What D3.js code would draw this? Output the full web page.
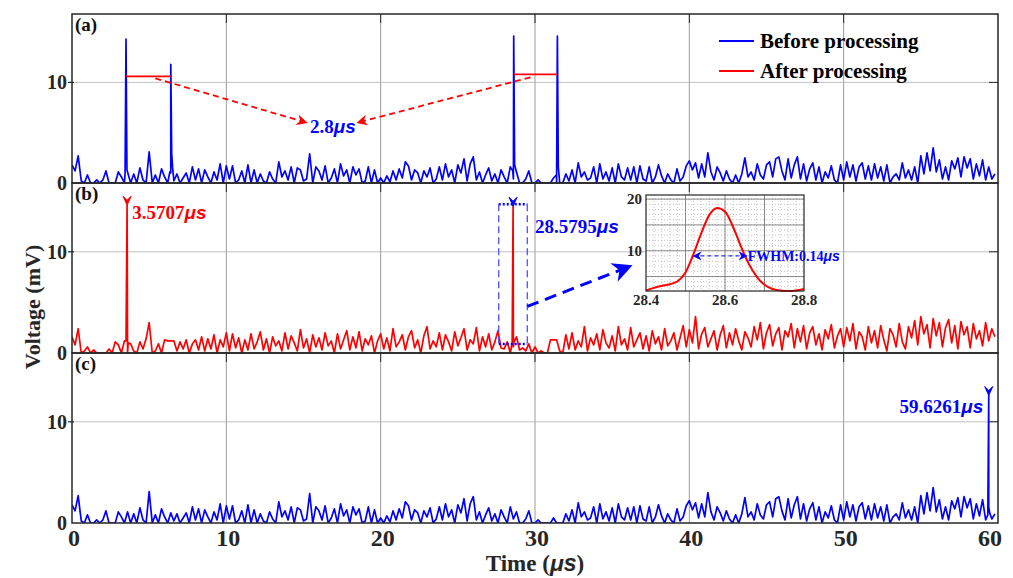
<!DOCTYPE html>
<html><head><meta charset="utf-8">
<script src="https://cdn.jsdelivr.net/npm/d3@7/dist/d3.min.js"></script>
<style>body{margin:0;background:#fff}svg{display:block}</style>
</head><body><svg id="c" width="1013" height="578"></svg>
<script>
// ---------------- DATA ----------------
const xTicks = [0, 10, 20, 30, 40, 50, 60];
const yTicks = [0, 10];
const panelLabels = ["(a)", "(b)", "(c)"];
const legendLabels = ["Before processing", "After processing"];
const sampleStep = 0.2; // µs between noise samples

// background noise seen in panels (a) and (c) (mV), one value per 0.2 µs
const noiseBefore = [
 1.8,1.2,2.7,0.2,0,0.8,0,0,0.3,0,
 0.3,1.2,0,0,0,1.1,0.6,0,1.1,0,
 0.9,0,1.5,0.3,0,3.1,0,0.8,0,1.4,
 0.6,0,1.0,0.2,0.9,0,0.5,1.0,0,1.6,
 0.3,1.4,0,1.3,0.6,0,1.1,0.3,1.9,0,
 1.7,0.4,1.7,0,0.3,1.2,0,1.8,0,1.3,
 0,0.9,0.2,0,1.1,0.4,0,2.1,0.6,1.2,
 0.3,1.6,0,1.5,1.3,0.2,0.4,2.9,0,1.6,
 1.2,0.3,1.7,0,0.5,1.4,0,1.9,0.7,1.3,
 0,1.6,0.8,1.4,0,0.2,1.6,0,1.3,0,
 0.5,0,0.7,0.1,1.2,0.3,1.4,0.5,2.1,1.7,
 0.3,1.3,1.0,0,1.2,0.6,1.5,0,0.4,1.6,
 0.3,1.9,0.6,1.3,0,1.8,1.0,2.4,0.2,1.9,
 2.6,0.3,1.1,0,0.8,1.5,0.2,0.9,0,1.3,
 0.6,0,1.6,0.4,1.1,0,0,0.4,1.2,0,
 0,0.3,0,0,0,0,0.5,0,0,0,
 0.9,0.2,1.3,0,2.0,0.6,1.1,0.3,0.5,1.6,
 0,1.9,0.4,1.1,0.2,1.5,0,1.9,0.6,0.3,
 1.5,0.3,1.6,0,1.7,0.4,0.2,1.6,0,0.6,
 1.8,0.7,0,0.9,0.3,0,1.4,0.2,0.6,1.7,
 2.2,1.3,2.0,0.5,1.9,0.6,3.0,1.1,0.3,1.6,
 1.0,0.2,1.2,0.4,0,0.8,0,0.9,2.5,0.6,
 1.1,0.3,1.9,0.8,0.4,1.8,2.1,0.6,2.4,2.6,
 1.2,0.3,2.4,0.5,1.8,2.6,0.4,1.9,0.2,1.4,
 2.0,0.3,1.6,0,1.1,0.5,1.7,0.3,0,1.8,
 0.3,2.1,0.6,1.8,0.2,1.6,2.0,0.4,1.7,0.3,
 1.9,0.5,1.6,0.2,1.8,0,0.6,0.9,0.3,2.0,
 0.5,1.3,0.3,1.6,0,2.7,0.9,3.0,1.2,3.5,
 1.1,2.3,0.4,1.6,0.3,2.2,1.4,2.5,0.6,2.6,
 1.5,2.4,0.4,1.9,0.7,2.3,0.3,1.6,0.4,0.9
];
// background noise in panel (b) (mV)
const noiseAfter = [
 1.6,0.8,2.4,0,0.2,0.6,0,0.3,0,0,
 0,0,0.4,0,1.1,0.8,0,1.2,0,0.9,
 0.2,0,1.1,0.4,1.4,3.0,0,0.2,0.9,0,
 1.3,1.2,1.2,1.2,0.2,1.1,0.4,1.3,0,0.9,
 1.3,0.3,1.6,0.2,1.4,0.4,1.8,0,1.3,0.6,
 2.0,0.2,1.9,0.5,1.5,0,1.3,0.3,1.9,0.4,
 1.1,2.1,0.3,1.4,0,1.6,0.7,1.2,0.2,2.0,
 0.4,1.7,1.0,0.2,2.3,0.5,1.4,0,1.8,0.6,
 1.5,0.3,2.0,0.7,1.2,0,1.9,0.4,1.3,2.2,
 0.3,1.6,0.5,2.1,0.2,1.4,0.8,1.7,0,1.2,
 1.9,0.4,1.5,0.2,2.4,0.6,1.1,1.8,0.3,1.6,
 2.2,0.5,1.3,0,1.7,2.6,0.4,1.2,0.6,2.0,
 0.3,1.8,1.1,0.2,2.1,0.7,1.5,2.4,0.3,1.3,
 0.9,2.5,0.2,1.6,0.6,1.9,0.3,1.1,2.2,0.5,
 0.4,1.1,0,0.6,1.6,0.3,0.5,0.2,0.9,0,
 0.6,0,0.2,0,0,1.3,1.3,1.3,0.2,0,
 1.8,0.4,2.0,0.3,1.2,0.6,2.6,0.2,1.5,0.8,
 1.9,0.3,2.3,1.0,0.5,1.7,0.2,2.6,0.8,1.4,
 0.3,2.5,0.6,1.3,2.0,0.4,1.7,0.2,2.2,0.9,
 1.6,0.3,2.4,0.7,1.2,2.0,0.3,1.5,2.7,0.6,
 2.3,1.0,3.6,0.4,1.9,2.5,0.6,1.4,2.2,0.3,
 1.8,2.7,0.5,2.0,0.8,2.4,1.2,0.3,2.1,1.5,
 0.6,2.6,1.3,3.0,0.4,2.0,2.8,0.7,1.9,2.5,
 0.3,2.2,1.6,2.9,0.5,2.4,1.1,2.7,0.4,2.0,
 2.6,0.8,1.9,0.3,2.3,1.4,2.8,0.5,1.7,2.4,
 0.6,2.5,1.2,2.9,0.4,2.1,1.6,0.3,2.6,1.0,
 2.2,0.5,2.7,1.3,0.2,2.4,1.8,0.6,2.9,1.1,
 0.4,2.6,1.5,3.2,0.8,3.6,1.9,2.8,0.5,3.4,
 1.7,3.0,0.6,2.5,3.3,1.0,2.7,0.4,3.1,1.8,
 2.6,0.5,2.9,1.4,2.2,0.7,3.0,1.2,2.4,1.6
];
// pulse samples [time µs, mV]
const pulsesBefore = [[3.44,1.0],[3.5,14.3],[3.56,1.3],[6.34,1.1],[6.4,11.8],[6.46,2.9],[6.52,1.5],
                      [28.56,1.2],[28.62,14.6],[28.68,1.8],[31.39,0.8],[31.45,14.6],[31.51,1.6]];
const pulsesAfter  = [[3.5,1.2],[3.57,14.6],[3.64,1.0],[28.52,1.0],[28.58,14.5],[28.64,1.1]];
const pulsesC      = [[59.34,0.8],[59.4,12.6],[59.46,1.0]];
// red intervals in (a): [start, end, level]
const intervals = [[3.5, 6.4, 10.6], [28.62, 31.45, 10.8]];
// inset: zoom of the pulse near 28.58 µs
const insetT = [28.40,28.42,28.44,28.46,28.48,28.50,28.52,28.54,28.56,28.58,28.60,28.62,28.64,28.66,28.68,28.70,28.72,28.74,28.76,28.78,28.80];
const insetV = [2.3,2.8,3.2,3.5,4.1,5.8,9.3,13.4,16.9,18.3,17.6,14.7,10.9,7.5,5.0,3.4,2.6,2.3,2.2,2.3,2.6];
const insetXTicks = [28.4, 28.6, 28.8];
const insetYTicks = [10, 20];

// ---------------- LAYOUT ----------------
const svg = d3.select("#c");
const L = 72, R = 998;
const panels = [{top:14,bot:183},{top:183,bot:353},{top:353,bot:523}];
const x = d3.scaleLinear([0, 60], [L, R]);
const ys = panels.map(p => d3.scaleLinear([0, 16.8], [p.bot, p.top]));
const serif = "'Liberation Serif','Times New Roman',serif";
const sans = "'Liberation Sans',Arial,sans-serif";
const BLUE = "#0000ff", RED = "#ff0000", TXT = "#262626";

function series(noise, pulses) {
  const pts = noise.map((v, i) => [i * sampleStep, v]).concat(pulses);
  pts.sort((a, b) => a[0] - b[0]);
  return pts;
}
const data = [series(noiseBefore, pulsesBefore), series(noiseAfter, pulsesAfter), series(noiseBefore, pulsesC)];
const colors = [BLUE, RED, BLUE];

const defs = svg.append("defs");
panels.forEach((p, i) => {
  defs.append("clipPath").attr("id", "clip" + i).append("rect")
    .attr("x", L).attr("y", p.top).attr("width", R - L).attr("height", p.bot - p.top);
});
function arrowMarker(id, color, size) {
  defs.append("marker").attr("id", id).attr("viewBox", "0 0 10 10").attr("refX", 9).attr("refY", 5)
    .attr("markerUnits", "userSpaceOnUse").attr("markerWidth", size).attr("markerHeight", size)
    .attr("orient", "auto-start-reverse")
    .append("path").attr("d", "M0,0 L10,5 L0,10 L3,5 Z").attr("fill", color);
}
arrowMarker("arRed", RED, 11);
arrowMarker("arBlue", BLUE, 20);
arrowMarker("arBlueS", BLUE, 9);

panels.forEach((p, i) => {
  const g = svg.append("g");
  const y = ys[i];
  // grid
  g.selectAll(".vg").data(xTicks.filter(t => t > 0 && t < 60)).join("line")
    .attr("x1", d => x(d)).attr("x2", d => x(d)).attr("y1", p.top).attr("y2", p.bot)
    .attr("stroke", "#808080").attr("stroke-width", 0.8);
  g.selectAll(".hg").data(yTicks.filter(t => t > 0)).join("line")
    .attr("x1", L).attr("x2", R).attr("y1", d => y(d)).attr("y2", d => y(d))
    .attr("stroke", "#b0b0b0").attr("stroke-width", 0.8);
  // trace
  g.append("path").datum(data[i]).attr("clip-path", `url(#clip${i})`)
    .attr("d", d3.line().x(d => x(d[0])).y(d => y(d[1])))
    .attr("fill", "none").attr("stroke", colors[i]).attr("stroke-width", 1.7).attr("stroke-linejoin", "round");
  // inward ticks
  g.selectAll(".xt").data(xTicks.filter(t => t > 0 && t < 60)).join("line")
    .attr("x1", d => x(d)).attr("x2", d => x(d)).attr("y1", p.top).attr("y2", p.top + 9)
    .attr("stroke", "#262626").attr("stroke-width", 1);
  g.selectAll(".ytr").data(yTicks.filter(t => t > 0)).join("line")
    .attr("x1", R - 9).attr("x2", R).attr("y1", d => y(d)).attr("y2", d => y(d))
    .attr("stroke", "#262626").attr("stroke-width", 1);
  g.selectAll(".ytl").data(yTicks.filter(t => t > 0)).join("line")
    .attr("x1", L - 4).attr("x2", L + 2).attr("y1", d => y(d)).attr("y2", d => y(d))
    .attr("stroke", "#262626").attr("stroke-width", 1.2);
  // frame
  g.append("rect").attr("x", L).attr("y", p.top).attr("width", R - L).attr("height", p.bot - p.top)
    .attr("fill", "none").attr("stroke", "#262626").attr("stroke-width", 1.5);
  // y tick labels
  g.selectAll(".yl").data(yTicks).join("text")
    .attr("x", L - 5).attr("y", d => y(d) + 7).attr("text-anchor", "end")
    .attr("font-family", serif).attr("font-weight", "bold").attr("font-size", 20).attr("fill", TXT)
    .text(d => d);
  // panel label
  g.append("text").attr("x", L + 3).attr("y", p.top + 17)
    .attr("font-family", serif).attr("font-weight", "bold").attr("font-size", 19).attr("fill", "#111")
    .text(panelLabels[i]);
});

// x tick labels
svg.selectAll(".xl").data(xTicks).join("text")
  .attr("x", d => x(d) + (d === 60 ? -8 : 2)).attr("y", 546).attr("text-anchor", "middle")
  .attr("font-family", serif).attr("font-weight", "bold").attr("font-size", 24).attr("fill", TXT)
  .text(d => d);

// axis titles
const tt = svg.append("text").attr("x", 535).attr("y", 571).attr("text-anchor", "middle")
  .attr("font-family", serif).attr("font-weight", "bold").attr("font-size", 23).attr("fill", TXT);
tt.append("tspan").text("Time (");
tt.append("tspan").attr("font-family", sans).attr("font-style", "italic").text("μs");
tt.append("tspan").text(")");
svg.append("text").attr("transform", "translate(40,307) rotate(-90)").attr("text-anchor", "middle")
  .attr("font-family", serif).attr("font-weight", "bold").attr("font-size", 22).attr("fill", TXT)
  .text("Voltage (mV)");

// label with µs in italic sans
function usLabel(sel, tx, ty, num, color, size, anchor) {
  const t = sel.append("text").attr("x", tx).attr("y", ty).attr("text-anchor", anchor || "start")
    .attr("font-family", serif).attr("font-weight", "bold").attr("font-size", size).attr("fill", color);
  t.append("tspan").text(num);
  t.append("tspan").attr("font-family", sans).attr("font-style", "italic").text("μs");
  return t;
}

// legend (panel a)
[[BLUE, 41, 48], [RED, 71, 78]].forEach((d, i) => {
  svg.append("line").attr("x1", 719).attr("x2", 754).attr("y1", d[1]).attr("y2", d[1])
    .attr("stroke", d[0]).attr("stroke-width", 2);
  svg.append("text").attr("x", 760).attr("y", d[2]).attr("font-family", serif).attr("font-weight", "bold")
    .attr("font-size", 21).attr("fill", "#000").text(legendLabels[i]);
});

// panel (a) annotations
const ya = ys[0];
intervals.forEach(d => {
  svg.append("line").attr("x1", x(d[0])).attr("x2", x(d[1])).attr("y1", ya(d[2])).attr("y2", ya(d[2]))
    .attr("stroke", RED).attr("stroke-width", 1.8);
});
[[5.4, 10.4, 15.2, 6.0], [29.7, 10.5, 18.5, 6.0]].forEach(d => {
  svg.append("line").attr("x1", x(d[0])).attr("y1", ya(d[1])).attr("x2", x(d[2])).attr("y2", ya(d[3]))
    .attr("stroke", RED).attr("stroke-width", 1.8).attr("stroke-dasharray", "6,4")
    .attr("marker-end", "url(#arRed)");
});
usLabel(svg, x(16.9), ya(5.0), "2.8", BLUE, 19, "middle");

// panel (b) annotations
const yb = ys[1];
function peakMarker(px, py, color) {
  svg.append("path").attr("d", `M${px - 4},${py - 9} L${px},${py} L${px + 4},${py - 9} L${px},${py - 5} Z`)
    .attr("fill", color).attr("stroke", color).attr("stroke-width", 1);
}
peakMarker(x(3.57), yb(14.6), RED);
usLabel(svg, x(3.9), yb(13.2), "3.5707", RED, 19);
peakMarker(x(28.58), yb(14.5), BLUE);
usLabel(svg, x(30.0), yb(11.9), "28.5795", BLUE, 19);
// dotted box around pulse
const bx0 = x(27.65), bx1 = x(29.5), by0 = yb(14.7), by1 = yb(0.9);
[[bx0, by0, bx1, by0], [bx0, by1, bx1, by1]].forEach(d =>
  svg.append("line").attr("x1", d[0]).attr("y1", d[1]).attr("x2", d[2]).attr("y2", d[3])
    .attr("stroke", BLUE).attr("stroke-width", 2.5).attr("stroke-dasharray", "2,2"));
[[bx0, by0, bx0, by1], [bx1, by0, bx1, by1]].forEach(d =>
  svg.append("line").attr("x1", d[0]).attr("y1", d[1]).attr("x2", d[2]).attr("y2", d[3])
    .attr("stroke", "#4d4dff").attr("stroke-width", 1.3).attr("stroke-dasharray", "7,4"));
svg.append("line").attr("x1", x(29.5)).attr("y1", yb(4.6)).attr("x2", x(36.2)).attr("y2", yb(8.6))
  .attr("stroke", BLUE).attr("stroke-width", 3).attr("stroke-dasharray", "12,7")
  .attr("marker-end", "url(#arBlue)");

// inset
const ix = d3.scaleLinear([28.4, 28.8], [646, 804]);
const iy = d3.scaleLinear([2.2, 20.8], [291, 195]);
const ig = svg.append("g");
ig.append("rect").attr("x", 646).attr("y", 195).attr("width", 158).attr("height", 96).attr("fill", "#fff");
ig.selectAll(".mvx").data(d3.range(1, 20).map(k => 28.4 + k * 0.02)).join("line")
  .attr("x1", d => ix(d)).attr("x2", d => ix(d)).attr("y1", 195).attr("y2", 291)
  .attr("stroke", "#a0a0a0").attr("stroke-width", 0.6).attr("stroke-dasharray", "1,2");
ig.selectAll(".mvy").data(d3.range(3, 21)).join("line")
  .attr("x1", 646).attr("x2", 804).attr("y1", d => iy(d)).attr("y2", d => iy(d))
  .attr("stroke", "#a0a0a0").attr("stroke-width", 0.6).attr("stroke-dasharray", "1,2");
ig.selectAll(".Mvx").data([28.5, 28.6, 28.7]).join("line")
  .attr("x1", d => ix(d)).attr("x2", d => ix(d)).attr("y1", 195).attr("y2", 291)
  .attr("stroke", "#707070").attr("stroke-width", 0.8);
ig.selectAll(".Mvy").data([5, 10, 15, 20]).join("line")
  .attr("x1", 646).attr("x2", 804).attr("y1", d => iy(d)).attr("y2", d => iy(d))
  .attr("stroke", "#707070").attr("stroke-width", 0.8);
ig.append("path").datum(insetT.map((t, i) => [t, insetV[i]]))
  .attr("d", d3.line().x(d => ix(d[0])).y(d => iy(d[1])).curve(d3.curveMonotoneX))
  .attr("fill", "none").attr("stroke", RED).attr("stroke-width", 2);
ig.append("rect").attr("x", 646).attr("y", 195).attr("width", 158).attr("height", 96)
  .attr("fill", "none").attr("stroke", "#262626").attr("stroke-width", 1.2);
ig.selectAll(".ixl").data(insetXTicks).join("text")
  .attr("x", d => ix(d)).attr("y", 305).attr("text-anchor", "middle")
  .attr("font-family", serif).attr("font-weight", "bold").attr("font-size", 15).attr("fill", TXT)
  .text(d => d.toFixed(1));
ig.selectAll(".iyl").data(insetYTicks).join("text")
  .attr("x", 642).attr("y", d => iy(d) + 5).attr("text-anchor", "end")
  .attr("font-family", serif).attr("font-weight", "bold").attr("font-size", 15).attr("fill", TXT)
  .text(d => d);
ig.append("line").attr("x1", ix(28.52)).attr("x2", ix(28.655)).attr("y1", iy(9.0)).attr("y2", iy(9.0))
  .attr("stroke", BLUE).attr("stroke-width", 1).attr("stroke-dasharray", "4,3")
  .attr("marker-start", "url(#arBlueS)").attr("marker-end", "url(#arBlueS)");
const fw = ig.append("text").attr("x", ix(28.655) + 1).attr("y", iy(9.0) + 5)
  .attr("font-family", serif).attr("font-weight", "bold").attr("font-size", 14).attr("fill", BLUE);
fw.append("tspan").text("FWHM:0.14");
fw.append("tspan").attr("font-family", sans).attr("font-style", "italic").text("μs");

// panel (c)
const yc = ys[2];
peakMarker(x(59.4), yc(12.6), BLUE);
usLabel(svg, x(59.05), yc(10.9), "59.6261", BLUE, 19, "end");
</script></body></html>
